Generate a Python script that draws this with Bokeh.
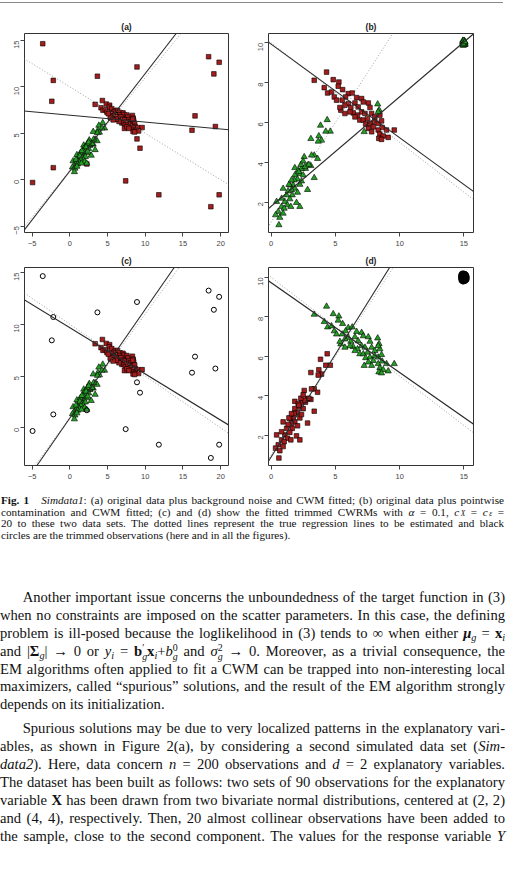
import math
from bokeh.plotting import figure
from bokeh.models import Range1d, FixedTicker, Slope, Div
from bokeh.layouts import column, row
from bokeh.embed import file_html
from bokeh.resources import INLINE

# ---------------- data ----------------
# component 1 (steep linear group)
c1_x = [4.36, 3.84, 4.60, 4.25, 3.71, 3.09, 3.92, 3.66, 3.35, 3.61, 3.14, 2.57, 2.83, 3.09, 2.67,
        2.36, 1.84, 2.10, 2.23, 2.49, 1.84, 2.05, 3.35, 1.71, 1.45, 2.23, 1.84, 1.58, 0.93, 2.05,
        2.83, 1.20, 1.64, 1.45, 1.06, 1.27, 1.97, 2.23, 0.42, 0.81, 1.01, 0.55, 0.34, 0.67, 0.93,
        0.60, 1.53, 1.79, 1.38, 2.36, 2.62, 2.93, 2.31, 2.49, 2.15, 1.58, 1.32, 0.81]
c1_y = [6.13, 5.85, 5.55, 5.55, 5.32, 5.18, 5.10, 5.05, 4.35, 4.18, 4.35, 4.27, 3.85, 3.82, 3.68,
        3.68, 3.72, 3.60, 3.43, 3.35, 3.35, 3.15, 3.22, 2.85, 2.85, 2.88, 2.68, 2.60, 2.68, 2.48,
        2.62, 2.35, 2.35, 2.15, 2.02, 1.85, 1.97, 1.77, 2.02, 1.77, 1.68, 1.52, 1.35, 1.22, 1.43,
        0.85, 1.77, 3.10, 2.88, 3.05, 3.77, 3.88, 3.88, 4.05, 3.52, 3.10, 2.55, 2.18]
# component 2 (decreasing group)
c2_x = [4.31, 3.35, 4.83, 5.27, 4.13, 5.22, 5.56, 4.39, 4.70, 6.00, 6.31, 5.79, 4.91, 5.53, 6.65,
        7.04, 7.17, 6.52, 6.00, 5.74, 5.42, 6.20, 6.77, 7.56, 7.69, 8.29, 8.40, 6.39, 6.72, 7.04,
        7.30, 6.90, 7.17, 7.82, 8.07, 8.46, 7.50, 7.35, 7.69, 8.07, 8.33, 8.59, 8.64, 7.95, 8.33,
        8.98, 9.58, 7.24, 8.46, 8.72, 8.38, 9.11, 8.59, 7.56, 7.82, 6.52, 6.13, 5.74, 5.35, 5.09,
        8.33]
c2_y = [8.53, 8.12, 8.15, 8.03, 7.75, 7.82, 7.65, 7.48, 7.53, 7.45, 7.48, 7.28, 7.28, 7.12, 7.25,
        7.20, 7.03, 6.98, 6.95, 6.87, 6.62, 6.75, 6.78, 6.98, 6.75, 6.92, 6.63, 6.48, 6.37, 6.53,
        6.45, 6.12, 6.12, 6.45, 6.28, 6.37, 6.20, 5.92, 5.95, 6.03, 5.95, 6.08, 5.75, 5.78, 5.62,
        5.62, 5.62, 5.53, 5.42, 5.32, 5.20, 5.25, 5.15, 5.70, 5.53, 6.28, 6.53, 6.45, 6.75, 7.12,
        6.53]
# points of component 2 that CWM assigned to the green group in panel (b)
b_green_idx = [25, 26, 47, 60]
# background noise (panels a, c)
noise_x = [-3.6, -2.2, -2.4, -2.2, -4.95, 3.65, 8.9, 7.4, 11.8, 18.4, 19.8, 19.1, 16.6, 16.2, 19.3,
           19.8, 18.7, 8.9, 9.3, 2.25]
noise_y = [14.65, 10.7, 8.45, 1.3, -0.3, 11.15, 12.15, -0.12, -1.62, 13.25, 12.65, 11.4, 6.88, 5.33,
           5.73, -1.62, -2.9, 4.4, 3.4, 1.7]
# pointwise contamination (panels b, d)
pc_x = [14.95, 15.04, 15.00, 14.90, 15.09, 14.98, 15.06, 14.92, 15.02, 14.97, 15.10, 14.93, 15.04,
        15.00, 14.91, 15.07, 14.98, 15.02, 14.95, 15.08]
pc_y = [10.04, 9.90, 10.10, 9.97, 10.02, 9.88, 10.08, 10.12, 9.94, 10.00, 9.93, 9.87, 10.09, 9.99,
        10.06, 9.91, 10.11, 10.00, 9.95, 10.05]
# regression lines: true (dotted) and fitted (solid) -> (slope, intercept)
true_slopes = [1.0, -0.5]
true_intercepts = [1.0, 10.0]
fit_a_slopes, fit_a_intercepts = [1.05, -0.074], [0.95, 6.95]
fit_b_slopes, fit_b_intercepts = [0.55, -0.47], [1.79, 9.93]
fit_c_slopes, fit_c_intercepts = [1.05, -0.446], [0.95, 9.67]
fit_d_slopes, fit_d_intercepts = [1.04, -0.455], [0.91, 9.73]
# axes
ticks_x_ac = [-5, 0, 5, 10, 15, 20]
ticks_y_a = [-5, 0, 5, 10, 15]
ticks_y_c = [0, 5, 10, 15]
ticks_x_bd = [0, 5, 10, 15]
ticks_y_bd = [2, 4, 6, 8, 10]

RED = "#A51C1C"
GREEN = "#23A023"


def panel(title, xr, yr, xt, yt, width, height, bl, br, bt, bb):
    p = figure(width=width, height=height, x_range=Range1d(*xr), y_range=Range1d(*yr),
               output_backend="svg", toolbar_location=None, title=title,
               min_border_left=bl, min_border_right=br, min_border_top=bt, min_border_bottom=bb)
    p.title.align = "center"
    p.title.vertical_align = "bottom"
    p.title.text_font = "Liberation Sans"
    p.title.text_font_size = "8.5px"
    p.title.text_font_style = "bold"
    p.title.text_color = "#222"
    p.title.standoff = 3
    p.grid.visible = False
    p.outline_line_color = "#333"
    p.outline_line_width = 1
    p.background_fill_color = "white"
    p.border_fill_color = "white"
    p.xaxis.ticker = FixedTicker(ticks=xt, minor_ticks=[])
    p.yaxis.ticker = FixedTicker(ticks=yt, minor_ticks=[])
    p.yaxis.major_label_orientation = math.pi / 2
    for ax in (p.xaxis, p.yaxis):
        ax.axis_line_color = None
        ax.major_tick_in = 0
        ax.major_tick_out = 4
        ax.major_tick_line_color = "#444"
        ax.major_label_text_font = "Liberation Sans"
        ax.major_label_text_font_size = "7.5px"
        ax.major_label_text_color = "#444"
        ax.major_label_standoff = 4
    return p


def add_lines(p, slopes, intercepts):
    for s, b in zip(true_slopes, true_intercepts):
        p.add_layout(Slope(gradient=s, y_intercept=b, line_color="#888", line_width=0.8,
                           line_dash="1 2"))
    for s, b in zip(slopes, intercepts):
        p.add_layout(Slope(gradient=s, y_intercept=b, line_color="#2a2a2a", line_width=1.1))


def squares(p, x, y):
    p.scatter(x, y, marker="square", size=4.6, fill_color=RED, line_color="black", line_width=0.6)


def triangles(p, x, y):
    p.scatter(x, y, marker="triangle", size=6.2, fill_color=GREEN, line_color="black",
              line_width=0.6)


# (a) background noise, CWM
pa = panel("(a)", (-6.02, 21.04), (-5.68, 15.75), ticks_x_ac, ticks_y_a, 245, 247, 24, 17, 28, 20)
squares(pa, noise_x + c2_x, noise_y + c2_y)
triangles(pa, c1_x, c1_y)
add_lines(pa, fit_a_slopes, fit_a_intercepts)

# (b) pointwise contamination, CWM
pb = panel("(b)", (-0.21, 15.75), (0.47, 10.47), ticks_x_bd, ticks_y_bd, 262, 247, 23, 34, 28, 20)
b_red_x = [v for i, v in enumerate(c2_x) if i not in b_green_idx]
b_red_y = [v for i, v in enumerate(c2_y) if i not in b_green_idx]
b_grn_x = [c2_x[i] for i in b_green_idx]
b_grn_y = [c2_y[i] for i in b_green_idx]
squares(pb, b_red_x, b_red_y)
triangles(pb, c1_x + b_grn_x + pc_x, c1_y + b_grn_y + pc_y)
add_lines(pb, fit_b_slopes, fit_b_intercepts)

# (c) background noise, trimmed CWRM
pc = panel("(c)", (-6.02, 21.04), (-3.63, 15.48), ticks_x_ac, ticks_y_c, 245, 238, 24, 17, 13, 25)
squares(pc, c2_x, c2_y)
triangles(pc, c1_x, c1_y)
pc.scatter(noise_x, noise_y, marker="circle", size=5, fill_color=None, line_color="black",
           line_width=1)
add_lines(pc, fit_c_slopes, fit_c_intercepts)

# (d) pointwise contamination, trimmed CWRM
pd_ = panel("(d)", (-0.21, 15.75), (0.47, 10.5), ticks_x_bd, ticks_y_bd, 262, 238, 23, 34, 13, 25)
squares(pd_, c1_x, c1_y)
triangles(pd_, c2_x, c2_y)
pd_.scatter(pc_x, pc_y, marker="circle", size=6, fill_color=None, line_color="black",
            line_width=3)
add_lines(pd_, fit_d_slopes, fit_d_intercepts)

# ---------------- text ----------------
def ss(sup, sub):
    return ('<span style="display:inline-block;vertical-align:-0.42em;font-size:68%;'
            'line-height:0.95em;text-align:left;text-align-last:left">'
            f'<span style="display:block">{sup}</span><span style="display:block">{sub}</span></span>')


SUB = '<span style="font-size:70%;vertical-align:-0.25em;line-height:0">'
SUBC = '<span style="font-size:66%;vertical-align:-0.1em;line-height:0;margin-left:1.5px">'

caption_lines = [
    '<b>Fig. 1</b>&nbsp;&nbsp; <i>Simdata1</i>: (a) original data plus background noise and CWM fitted; (b) original data plus pointwise',
    'contamination and CWM fitted; (c) and (d) show the fitted trimmed CWRMs with <i>α</i> = 0.1, <i>c</i>' + SUBC + '<i>X</i></span> = <i>c</i>' + SUBC + '<i>ε</i></span> =',
    '20 to these two data sets. The dotted lines represent the true regression lines to be estimated and black',
    'circles are the trimmed observations (here and in all the figures).',
]

para1 = [
    'Another important issue concerns the unboundedness of the target function in (3)',
    'when no constraints are imposed on the scatter parameters. In this case, the defining',
    'problem is ill-posed because the loglikelihood in (3) tends to ∞ when either <b><i>μ</i></b>' + SUB + '<i>g</i></span> = <b>x</b>' + SUB + '<i>i</i></span>',
    'and |<b>Σ</b>' + SUB + '<i>g</i></span>| → 0 or <i>y</i>' + SUB + '<i>i</i></span> = <b>b</b>' + ss('′', '<i>g</i>') + '<b>x</b>' + SUB + '<i>i</i></span>+<i>b</i>' + ss('0', '<i>g</i>') + ' and <i>σ</i>' + ss('2', '<i>g</i>') + ' → 0. Moreover, as a trivial consequence, the',
    'EM algorithms often applied to fit a CWM can be trapped into non-interesting local',
    'maximizers, called “spurious” solutions, and the result of the EM algorithm strongly',
    'depends on its initialization.',
]
para2 = [
    'Spurious solutions may be due to very localized patterns in the explanatory vari-',
    'ables, as shown in Figure 2(a), by considering a second simulated data set (<i>Sim-</i>',
    '<i>data2</i>). Here, data concern <i>n</i> = 200 observations and <i>d</i> = 2 explanatory variables.',
    'The dataset has been built as follows: two sets of 90 observations for the explanatory',
    'variable <b>X</b> has been drawn from two bivariate normal distributions, centered at (2, 2)',
    'and (4, 4), respectively. Then, 20 almost collinear observations have been added to',
    'the sample, close to the second component. The values for the response variable <i>Y</i>',
]


def line_div(content, h, justify=True, indent=0, extra=""):
    al = "text-align:justify;text-align-last:justify;" if justify else "text-align:left;"
    ind = f"text-indent:{indent}px;" if indent else ""
    return (f'<div style="height:{h}px;line-height:{h}px;white-space:nowrap;{al}{ind}{extra}">'
            f'{content}</div>')


cap_html = '<div style="font-family:\'Liberation Serif\';font-size:11.2px;color:#111;width:504px;padding-left:1px;padding-top:5px">'
for i, l in enumerate(caption_lines):
    cap_html += line_div(l, 11.6, justify=(i < len(caption_lines) - 1))
cap_html += '</div>'

body_html = '<div style="font-family:\'Liberation Serif\';font-size:14.6px;color:#111;width:505px;padding-top:4px">'
for i, l in enumerate(para1):
    body_html += line_div(l, 17.9, justify=(i < len(para1) - 1), indent=22.7 if i == 0 else 0)
for i, l in enumerate(para2):
    body_html += line_div(l, 18, justify=True, indent=22.7 if i == 0 else 0,
                          extra="margin-top:5px;" if i == 0 else "")
body_html += '</div>'

rule = Div(text='', width=503, height=3, margin=(2, 4, 0, 0),
           styles={"border-top": "1.3px solid #888", "box-sizing": "border-box"})
cap = Div(text=cap_html, width=507, height=95, margin=(0, 0, 0, 0))
body = Div(text=body_html, width=507, height=309, margin=(0, 0, 0, 0))

layout = column(rule, row(pa, pb, spacing=0), row(pc, pd_, spacing=0), cap, body, spacing=0)

open("out.html", "w").write(file_html(layout, INLINE))
